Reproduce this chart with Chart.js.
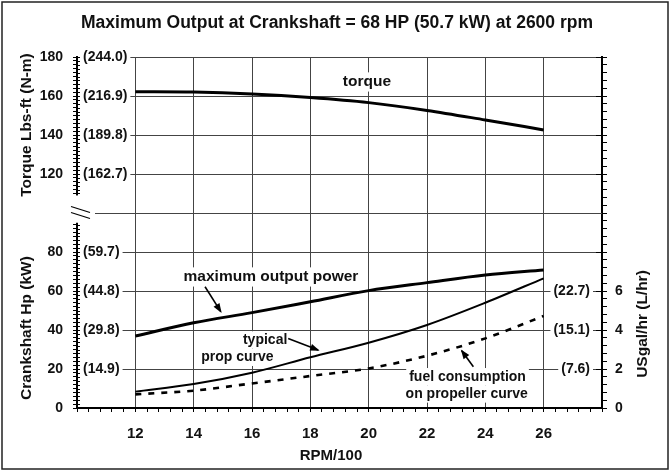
<!DOCTYPE html>
<html>
<head>
<meta charset="utf-8">
<title>Maximum Output at Crankshaft</title>
<script src="https://cdn.jsdelivr.net/npm/chart.js@4.4.1/dist/chart.umd.min.js"></script>
<style>
html,body{margin:0;padding:0;background:#fff}
#wrap{width:670px;height:472px}
</style>
</head>
<body>
<div id="wrap"><canvas id="engineChart" width="670" height="472"></canvas></div>
<script>

// values (RPM/100)
const rpm = [12,14,16,18,20,22,24,26]
const torque = [162.2,162.0,161.0,159.2,156.6,152.6,147.7,142.6]
const maxPower = [36.9,43.7,48.9,54.5,60.2,64.3,68.2,70.8]
const propCurve = [8.4,12.3,18.1,26.0,33.5,42.6,54.0,66.5]
const fuelFlow = [0.70,0.89,1.26,1.64,2.03,2.68,3.57,4.72]

// tick labels
const rpmTicks = [12,14,16,18,20,22,24,26]
const leftTicks = [0,20,40,60,80,120,140,160,180]
const powerTicks = [20,40,60,80]
const kwLabels = ['(14.9)','(29.8)','(44.8)','(59.7)']
const torqueTicks = [120,140,160,180]
const nmLabels = ['(162.7)','(189.8)','(216.9)','(244.0)']
const fuelTicks = [0,2,4,6]
const lphTicks = [2,4,6]
const lphLabels = ['(7.6)','(15.1)','(22.7)']

const FONT = '"Liberation Sans", Arial, Helvetica, sans-serif'
const INK = '#111'
const GRID = '#444'

const pts = ys => rpm.map((x,i)=>({x:x,y:ys[i]}))
const near = (v,list) => list.some(t=>Math.abs(t-v)<1e-6)


// helpers for the overlay

function boxedText(ctx,text,x,y,align,size){
ctx.font = 'bold '+size+'px '+FONT
const w = ctx.measureText(text).width
const left = align==='left' ? x : align==='right' ? x-w : x-w/2
ctx.fillStyle = '#fff'
ctx.fillRect(left-3,y-size*0.62,w+6,size*1.24)
ctx.fillStyle = INK
ctx.textAlign = align
ctx.textBaseline = 'middle'
ctx.fillText(text,x,y)
}

function arrow(ctx,x1,y1,x2,y2){
ctx.strokeStyle = '#000'
ctx.lineWidth = 1.6
ctx.beginPath()
ctx.moveTo(x1,y1)
ctx.lineTo(x2,y2)
ctx.stroke()
const a = Math.atan2(y2-y1,x2-x1)
ctx.beginPath()
ctx.moveTo(x2+1.5*Math.cos(a),y2+1.5*Math.sin(a))
ctx.lineTo(x2-8*Math.cos(a)+3.5*Math.sin(a),y2-8*Math.sin(a)-3.5*Math.cos(a))
ctx.lineTo(x2-8*Math.cos(a)-3.5*Math.sin(a),y2-8*Math.sin(a)+3.5*Math.cos(a))
ctx.closePath()
ctx.fillStyle = '#000'
ctx.fill()
}

function vText(ctx,text,x,y,size){
ctx.save()
ctx.translate(x,y)
ctx.rotate(-Math.PI/2)
ctx.font = 'bold '+size+'px '+FONT
ctx.fillStyle = INK
ctx.textAlign = 'center'
ctx.textBaseline = 'middle'
ctx.fillText(text,0,0)
ctx.restore()
}


// notes on the plot, placed in data units

const notes = [
{text:'torque',x:19.94,y:167.2,size:15.5},
{text:'maximum output power',x:16.65,y:67.2,size:15.5},
{text:'typical',x:16.45,y:34.9,size:14},
{text:'prop curve',x:15.5,y:26.0,size:14},
{text:'fuel consumption',x:23.39,y:16.05,size:14},
{text:'on propeller curve',x:23.36,y:7.2,size:14}
]

const arrows = [
[14.39,62.2,14.93,49.4],
[17.24,35.7,18.27,29.7],
[23.59,21.2,23.19,29.4]
]


const overlay = {
id:'overlay',

beforeDatasetsDraw(chart){
const ctx = chart.ctx
const area = chart.chartArea
const ys = chart.scales.y
const y2 = chart.scales.y2
const xs = chart.scales.x
ctx.save()

// break in the left axis
const gapTop = ys.getPixelForValue(109)
const gapBot = ys.getPixelForValue(95)
ctx.fillStyle = '#fff'
ctx.fillRect(area.left-12,gapTop,20,gapBot-gapTop)

// inner half of the left ticks
ctx.strokeStyle = '#000'
ctx.lineWidth = 1
ys.ticks.forEach(t=>{
if(t.value>94 && t.value<110) return
const p = Math.round(ys.getPixelForValue(t.value))+0.5
const len = t.value%20===0 ? 6 : 3
ctx.beginPath()
ctx.moveTo(area.left,p)
ctx.lineTo(area.left+len,p)
ctx.stroke()
})

// inner half of the major right ticks
y2.ticks.forEach(t=>{
if(Math.abs(t.value/2-Math.round(t.value/2))>1e-6) return
const p = Math.round(y2.getPixelForValue(t.value))+0.5
ctx.beginPath()
ctx.moveTo(area.right-6,p)
ctx.lineTo(area.right,p)
ctx.stroke()
})

// line at the break
const yb = Math.round(ys.getPixelForValue(100))+0.5
ctx.strokeStyle = GRID
ctx.beginPath()
ctx.moveTo(area.left+18,yb)
ctx.lineTo(area.right,yb)
ctx.stroke()

ctx.strokeStyle = '#000'
ctx.lineWidth = 1.2
;[-3,3].forEach(d=>{
ctx.beginPath()
ctx.moveTo(area.left-6,yb+d-4)
ctx.lineTo(area.left+13,yb+d+2)
ctx.stroke()
})

// secondary unit labels
powerTicks.forEach((v,i)=>boxedText(ctx,kwLabels[i],area.left+6,ys.getPixelForValue(v),'left',14))
torqueTicks.forEach((v,i)=>boxedText(ctx,nmLabels[i],area.left+6,ys.getPixelForValue(v),'left',14))
lphTicks.forEach((v,i)=>boxedText(ctx,lphLabels[i],area.right-12,y2.getPixelForValue(v),'right',14))

// curve notes
notes.forEach(n=>boxedText(ctx,n.text,xs.getPixelForValue(n.x),ys.getPixelForValue(n.y),'center',n.size))

ctx.restore()
},

afterDraw(chart){
const ctx = chart.ctx
const xs = chart.scales.x
const ys = chart.scales.y
ctx.save()

arrows.forEach(a=>arrow(ctx,xs.getPixelForValue(a[0]),ys.getPixelForValue(a[1]),xs.getPixelForValue(a[2]),ys.getPixelForValue(a[3])))

// titles
ctx.font = 'bold 17.5px '+FONT
ctx.fillStyle = INK
ctx.textAlign = 'center'
ctx.textBaseline = 'middle'
ctx.fillText('Maximum Output at Crankshaft = 68 HP (50.7 kW) at 2600 rpm',337,23)

ctx.font = 'bold 15px '+FONT
ctx.fillText('RPM/100',331,456)

vText(ctx,'Torque Lbs-ft (N-m)',27,125,15.5)
vText(ctx,'Crankshaft Hp (kW)',27,328,15.5)
vText(ctx,'USgal/hr (L/hr)',643,324,15.5)

// frame round the figure
ctx.strokeStyle = '#222'
ctx.lineWidth = 1.5
ctx.strokeRect(2,2,666,467)

ctx.restore()
}
}


const engineChart = new Chart(

document.getElementById('engineChart'),

{
type:'line',

data:{
datasets:[
{label:'torque',data:pts(torque),yAxisID:'y',borderColor:'#000',borderWidth:3},
{label:'maximum output power',data:pts(maxPower),yAxisID:'y',borderColor:'#000',borderWidth:3},
{label:'typical prop curve',data:pts(propCurve),yAxisID:'y',borderColor:'#000',borderWidth:2},
{label:'fuel consumption',data:pts(fuelFlow),yAxisID:'y2',borderColor:'#000',borderWidth:2.6,borderDash:[6,7]}
]
},

options:{
responsive:false,
animation:false,
devicePixelRatio:1,
layout:{padding:{top:57,left:0,right:0,bottom:0}},
elements:{
point:{radius:0},
line:{cubicInterpolationMode:'monotone',fill:false}
},
plugins:{legend:{display:false},tooltip:{enabled:false}},
scales:{
x:{
type:'linear',min:10,max:28,
afterFit:s=>{s.height=64},
ticks:{stepSize:0.4,autoSkip:false,maxRotation:0,padding:13,color:INK,
font:{family:FONT,size:15,weight:'bold'},
callback:v=>near(v,rpmTicks)?String(Math.round(v)):''},
grid:{color:c=>c.tick&&near(c.tick.value,rpmTicks)?GRID:'transparent',tickColor:'#000',tickLength:4},
border:{color:'#000',width:2}
},
y:{
type:'linear',position:'left',min:0,max:180,
afterFit:s=>{s.width=77},
ticks:{stepSize:2,autoSkip:false,padding:10,color:INK,
font:{family:FONT,size:14,weight:'bold'},
callback:v=>near(v,leftTicks)?String(Math.round(v)):''},
grid:{color:c=>c.tick&&c.tick.value%20===0&&c.tick.value!==0&&c.tick.value!==100?GRID:'transparent',tickColor:'#000',tickLength:4},
border:{color:'#000',width:2}
},
y2:{
type:'linear',position:'right',min:0,max:18,
afterFit:s=>{s.width=68},
ticks:{stepSize:0.4,autoSkip:false,padding:8,color:INK,
font:{family:FONT,size:14,weight:'bold'},
callback:v=>near(v,fuelTicks)?String(Math.round(v)):''},
grid:{drawOnChartArea:false,tickColor:'#000',tickLength:5},
border:{color:'#000',width:2}
}
}
},

plugins:[overlay]
}
)

</script>
</body>
</html>
